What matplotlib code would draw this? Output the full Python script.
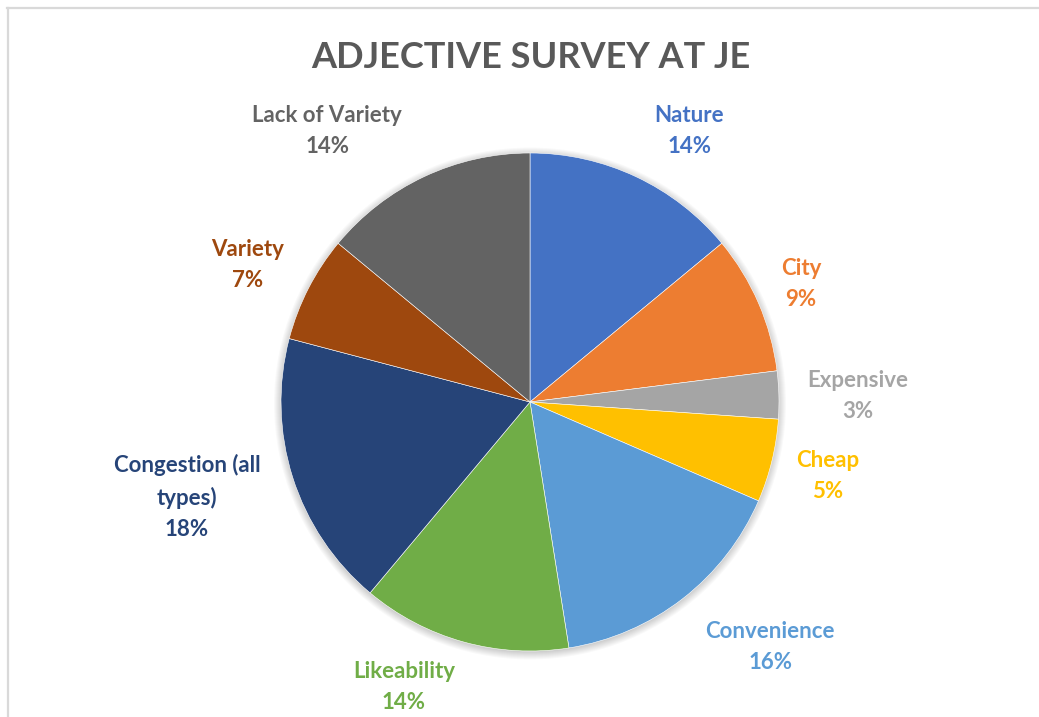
import matplotlib
matplotlib.use("Agg")
from matplotlib import pyplot as plt
from matplotlib.patches import Circle
from matplotlib.lines import Line2D

# survey shares (percent), clockwise from 12 o'clock
categories = ["Nature", "City", "Expensive", "Cheap", "Convenience",
              "Likeability", "Congestion (all\ntypes)", "Variety", "Lack of Variety"]
shares = [14.0, 9.0, 3.1, 5.4, 16.0, 13.6, 18.0, 6.9, 14.0]
colors = ["#4472C4", "#ED7D31", "#A5A5A5", "#FFC000", "#5B9BD5",
          "#70AD47", "#264478", "#9E480E", "#636363"]

# where Excel put the data labels (pie radius = 1)
label_xy = [(0.639, 1.088), (1.088, 0.474), (1.317, 0.024), (1.197, -0.297),
            (0.964, -0.984), (-0.506, -1.145), (-1.378, -0.382),
            (-1.133, 0.550), (-0.815, 1.088)]

W, H = 1039, 717
CX, CY, R = 530, 402, 249

plt.rcParams["font.family"] = ["Lato", "DejaVu Sans"]

fig = plt.figure(figsize=(W / 100, H / 100), dpi=100)
ax = fig.add_axes([0, 0, 1, 1])

# soft drop shadow under the pie
for k in range(8):
    ax.add_patch(Circle((0.0, -0.006), 1.0 + 0.004 * k, color="black",
                        alpha=0.025, lw=0, zorder=0))

ax.pie(shares, colors=colors, startangle=90, counterclock=False,
       radius=1.0, wedgeprops=dict(linewidth=0.4, edgecolor="white"))

total = sum(shares)
for name, val, col, (lx, ly) in zip(categories, shares, colors, label_xy):
    ax.text(lx, ly, f"{name}\n{round(val / total * 100):.0f}%", color=col,
            fontsize=16, fontweight="bold", ha="center", va="center",
            linespacing=1.6)

ax.set_aspect("auto")
ax.set_xlim(-CX / R, (W - CX) / R)
ax.set_ylim(-(H - CY) / R, CY / R)
ax.axis("off")

fig.text(531 / W, 1 - 57 / H, "ADJECTIVE SURVEY AT JE", ha="center", va="center",
         fontsize=26, fontweight="bold", color="#595959")

# chart frame (only top and left edges show in the crop)
fig.add_artist(Line2D([7 / W, 1], [1 - 7.5 / H, 1 - 7.5 / H], color="#D9D9D9",
                      lw=1.6, transform=fig.transFigure))
fig.add_artist(Line2D([7.5 / W, 7.5 / W], [0, 1 - 7.5 / H], color="#D9D9D9",
                      lw=1.6, transform=fig.transFigure))

fig.savefig("out.png", dpi=100, facecolor="white")
